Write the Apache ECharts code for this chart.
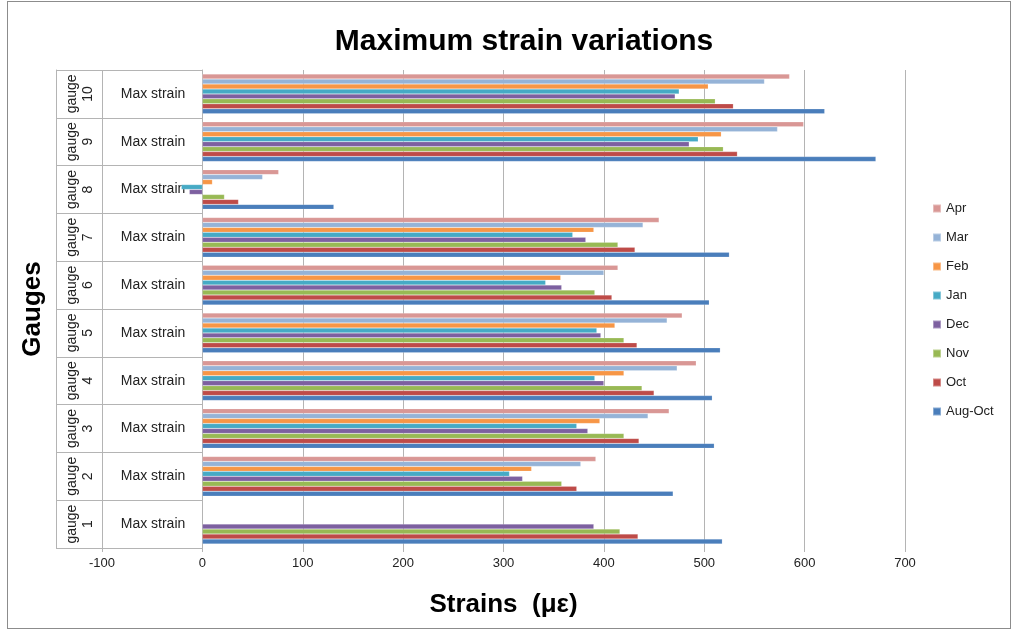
<!DOCTYPE html>
<html>
<head>
<meta charset="utf-8">
<title>Maximum strain variations</title>
<script src="https://cdn.jsdelivr.net/npm/echarts@6/dist/echarts.min.js"></script>
<style>
  html, body { margin: 0; padding: 0; background: #fff; }
  #wrap { position: relative; width: 1015px; height: 632px; }
  #chart { position: absolute; left: 0; top: 0; width: 1015px; height: 632px; }
  #frame { position: absolute; left: 7px; top: 1px; width: 1004px; height: 628px;
           border: 1px solid #8c8c8c; pointer-events: none; box-sizing: border-box; }
</style>
</head>
<body>
<div id="wrap">
  <div id="chart"></div>
  <div id="frame"></div>
</div>
<script>
// Gauges, bottom to top
const gauges = ['gauge 1', 'gauge 2', 'gauge 3', 'gauge 4', 'gauge 5',
                'gauge 6', 'gauge 7', 'gauge 8', 'gauge 9', 'gauge 10'];
const measureLabel = 'Max strain';

// Maximum strain per gauge (µε) for each reading period
const augOct = [518, 469, 510, 508, 516, 505, 525, 131, 671, 620];
const oct    = [434, 373, 435, 450, 433, 408, 431,  36, 533, 529];
const nov    = [416, 358, 420, 438, 420, 391, 414,  22, 519, 511];
const dec    = [390, 319, 384, 400, 397, 358, 382, -13, 485, 471];
const jan    = [null, 306, 373, 391, 393, 342, 369, -21, 494, 475];
const feb    = [null, 328, 396, 420, 411, 357, 390,  10, 517, 504];
const mar    = [null, 377, 444, 473, 463, 400, 439,  60, 573, 560];
const apr    = [null, 392, 465, 492, 478, 414, 455,  76, 599, 585];

// Listed top-of-group first (the first series sits on top of each group)
const periods = [
  { name: 'Apr',     data: apr,    color: '#d99795' },
  { name: 'Mar',     data: mar,    color: '#95b3d7' },
  { name: 'Feb',     data: feb,    color: '#f79646' },
  { name: 'Jan',     data: jan,    color: '#46aac5' },
  { name: 'Dec',     data: dec,    color: '#7d60a0' },
  { name: 'Nov',     data: nov,    color: '#98b954' },
  { name: 'Oct',     data: oct,    color: '#be4b48' },
  { name: 'Aug-Oct', data: augOct, color: '#4a7ebb' }
];

const xMin = -100, xMax = 700, xStep = 100;
const gridGray = '#b4b4b4';
const font = 'Liberation Sans, Arial, sans-serif';

const chart = echarts.init(document.getElementById('chart'), null, { renderer: 'canvas' });

chart.setOption({
  backgroundColor: '#ffffff',
  animation: false,
  textStyle: { fontFamily: font },
  title: {
    text: 'Maximum strain variations',
    left: 519,
    textAlign: 'center',
    top: 22,
    textStyle: { fontFamily: font, fontSize: 30, fontWeight: 'bold', color: '#000' }
  },
  legend: {
    orient: 'vertical',
    left: 927,
    top: 197,
    itemWidth: 8,
    itemHeight: 8,
    itemGap: 16,
    icon: 'rect',
    data: periods.map(p => p.name),
    textStyle: { fontFamily: font, fontSize: 13, color: '#222' }
  },
  grid: {
    left: 102,
    right: 110,
    top: 70,
    bottom: 84,
    containLabel: false,
    outerBoundsMode: 'none'
  },
  xAxis: {
    type: 'value',
    min: xMin,
    max: xMax,
    interval: xStep,
    name: 'Strains  (\u03bc\u03b5)',
    nameLocation: 'middle',
    nameGap: 44,
    nameTextStyle: { fontFamily: font, fontSize: 26, fontWeight: 'bold', color: '#000' },
    axisLine: { show: false },
    axisTick: { show: true, length: 4, lineStyle: { color: gridGray } },
    axisLabel: { fontFamily: font, fontSize: 13, color: '#222', margin: 9 },
    splitLine: { show: true, lineStyle: { color: gridGray, width: 1 } }
  },
  yAxis: [
    {
      // zero line; measure labels centred in the column between -100 and 0
      type: 'category',
      data: gauges,
      position: 'left',
      axisLine: { show: true, onZero: true, lineStyle: { color: gridGray } },
      axisTick: { show: false },
      axisLabel: {
        interval: 0,
        formatter: () => measureLabel,
        align: 'center',
        margin: -51,
        fontFamily: font,
        fontSize: 14,
        color: '#222'
      },
      splitLine: { show: false }
    },
    {
      // gauge names, rotated; its ticks rule the label column rows
      type: 'category',
      data: gauges,
      position: 'left',
      offset: 0,
      axisLine: { show: false, onZero: false },
      axisTick: { show: true, interval: 0, inside: true, length: 101, lineStyle: { color: gridGray } },
      axisLabel: {
        interval: 0,
        hideOverlap: false,
        formatter: v => v.replace(' ', '\n'),
        rotate: 90,
        margin: 6,
        lineHeight: 16,
        fontFamily: font,
        fontSize: 14,
        color: '#222'
      },
      splitLine: { show: false }
    },
    {
      // outer edge of the label table and the axis title
      type: 'category',
      data: gauges,
      position: 'left',
      offset: 46,
      name: 'Gauges',
      nameLocation: 'middle',
      nameGap: 10,
      nameRotate: 90,
      nameTextStyle: { fontFamily: font, fontSize: 26, fontWeight: 'bold', color: '#000' },
      axisLine: { show: true, onZero: false, lineStyle: { color: gridGray } },
      axisTick: { show: true, interval: 0, inside: true, length: 46, lineStyle: { color: gridGray } },
      axisLabel: { show: false, interval: 0 },
      splitLine: { show: false }
    }
  ],
  series: periods.map(p => ({
    name: p.name,
    type: 'bar',
    yAxisIndex: 0,
    data: p.data,
    barGap: '0%',
    barCategoryGap: '17%',
    itemStyle: { color: p.color, borderColor: 'rgba(255,255,255,0.35)', borderWidth: 0.5 }
  }))
});
</script>
</body>
</html>
